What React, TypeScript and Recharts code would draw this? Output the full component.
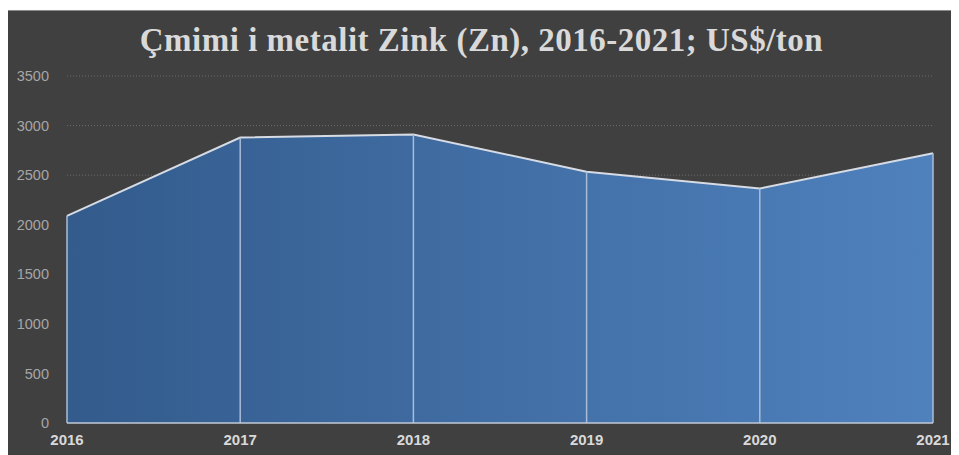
import React from 'react';
import {
  AreaChart,
  Area,
  XAxis,
  YAxis,
  CartesianGrid,
  ReferenceLine,
} from 'recharts';

const years = ['2016', '2017', '2018', '2019', '2020', '2021'];
const zincPrice = [2090, 2880, 2910, 2535, 2365, 2720];
const yTicks = [0, 500, 1000, 1500, 2000, 2500, 3000, 3500];

const data = years.map((year, i) => ({ year, price: zincPrice[i] }));

export default function App() {
  return (
    <div
      style={{
        position: 'relative',
        width: 955,
        height: 445,
        margin: '2px 0 0 -4px',
        background: '#404040',
        borderTop: '1px solid #8c8c8c',
        boxSizing: 'border-box',
      }}
    >
      <div
        style={{
          position: 'absolute',
          top: 11,
          left: 0,
          width: 955,
          textAlign: 'center',
          fontFamily: '"Liberation Serif", serif',
          fontWeight: 'bold',
          fontSize: 33,
          letterSpacing: 0.5,
          color: '#d9d9d9',
        }}
      >
        Çmimi i metalit Zink (Zn), 2016-2021; US$/ton
      </div>
      <AreaChart
        width={955}
        height={444}
        data={data}
        margin={{ top: 65, right: 26, left: 8, bottom: 10 }}
      >
        <defs>
          <linearGradient id="zincFill" x1="0" y1="0" x2="1" y2="0">
            <stop offset="0%" stopColor="#335b8c" />
            <stop offset="100%" stopColor="#4f81bd" />
          </linearGradient>
        </defs>
        <CartesianGrid
          horizontal
          vertical={false}
          stroke="#6b6b6b"
          strokeDasharray="1 2"
        />
        <XAxis
          dataKey="year"
          height={22}
          tickLine={false}
          axisLine={{ stroke: '#c0c8d6', strokeWidth: 1.5 }}
          tick={{ fill: '#d9d9d9', fontSize: 15, fontWeight: 'bold', fontFamily: '"Liberation Sans", sans-serif' }}
          tickMargin={5}
          interval={0}
        />
        <YAxis
          width={55}
          domain={[0, 3500]}
          ticks={yTicks}
          tickLine={false}
          axisLine={false}
          tickMargin={12}
          tick={{ fill: '#a6a6a6', fontSize: 14.5, fontFamily: '"Liberation Sans", sans-serif' }}
        />
        <Area
          type="linear"
          dataKey="price"
          stroke="#d6dbe4"
          strokeWidth={2}
          fill="url(#zincFill)"
          fillOpacity={1}
          isAnimationActive={false}
        />
        {data.map((d) => (
          <ReferenceLine
            key={d.year}
            segment={[
              { x: d.year, y: 0 },
              { x: d.year, y: d.price },
            ]}
            stroke="#a9bcd9"
            strokeWidth={1.5}
          />
        ))}
      </AreaChart>
    </div>
  );
}
